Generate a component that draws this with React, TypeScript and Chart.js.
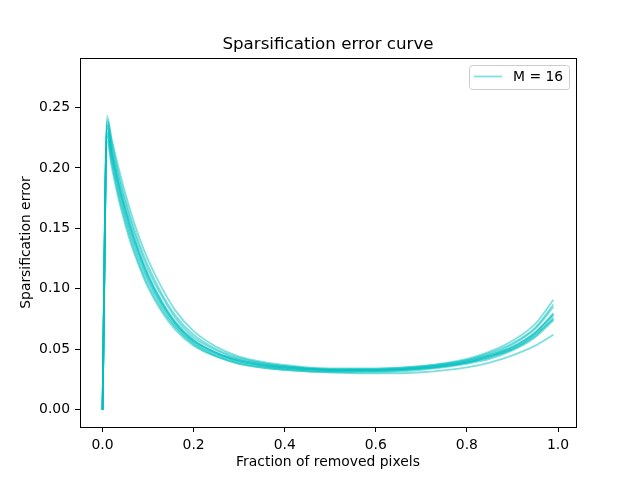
import React, { useEffect, useRef } from 'react';
import { Chart, registerables } from 'chart.js';

Chart.register(...registerables);

// fraction of removed pixels (x positions of the sampled points)
const FRACTIONS = [0, 0.01, 0.02, 0.03, 0.04, 0.06, 0.08, 0.1, 0.13, 0.16, 0.2, 0.25, 0.3, 0.4, 0.5, 0.6, 0.7, 0.8, 0.85, 0.9, 0.95, 0.99];

// sparsification error, one array per run
const run1 = [0, 0.243, 0.222, 0.204, 0.188, 0.161, 0.138, 0.119, 0.096, 0.078, 0.062, 0.050, 0.043, 0.036, 0.034, 0.034, 0.036, 0.042, 0.048, 0.057, 0.071, 0.091];
const run2 = [0, 0.238, 0.219, 0.201, 0.185, 0.158, 0.135, 0.116, 0.094, 0.076, 0.060, 0.049, 0.042, 0.036, 0.033, 0.033, 0.035, 0.041, 0.047, 0.055, 0.068, 0.087];
const run3 = [0, 0.235, 0.214, 0.196, 0.180, 0.153, 0.130, 0.111, 0.089, 0.072, 0.057, 0.047, 0.041, 0.035, 0.033, 0.033, 0.035, 0.040, 0.045, 0.052, 0.064, 0.080];
const run4 = [0, 0.230, 0.210, 0.192, 0.176, 0.149, 0.127, 0.108, 0.087, 0.071, 0.056, 0.046, 0.040, 0.034, 0.032, 0.032, 0.034, 0.039, 0.044, 0.051, 0.063, 0.078];
const run5 = [0, 0.228, 0.207, 0.189, 0.173, 0.146, 0.124, 0.106, 0.085, 0.069, 0.055, 0.045, 0.039, 0.034, 0.032, 0.032, 0.034, 0.039, 0.043, 0.050, 0.061, 0.076];
const run6 = [0, 0.222, 0.201, 0.183, 0.167, 0.140, 0.119, 0.101, 0.081, 0.066, 0.053, 0.044, 0.038, 0.033, 0.031, 0.031, 0.033, 0.038, 0.042, 0.049, 0.060, 0.074];
const run7 = [0, 0.226, 0.205, 0.186, 0.170, 0.143, 0.121, 0.103, 0.083, 0.068, 0.054, 0.044, 0.038, 0.033, 0.031, 0.030, 0.031, 0.035, 0.039, 0.045, 0.053, 0.062];
const run8 = [0, 0.240, 0.224, 0.208, 0.193, 0.166, 0.143, 0.124, 0.101, 0.082, 0.065, 0.052, 0.044, 0.037, 0.034, 0.034, 0.036, 0.041, 0.046, 0.054, 0.067, 0.085];
const run9 = [0, 0.233, 0.212, 0.194, 0.178, 0.151, 0.129, 0.110, 0.088, 0.071, 0.057, 0.047, 0.040, 0.035, 0.033, 0.033, 0.035, 0.040, 0.045, 0.052, 0.064, 0.079];
const run10 = [0, 0.236, 0.215, 0.197, 0.181, 0.154, 0.131, 0.112, 0.090, 0.073, 0.058, 0.047, 0.041, 0.035, 0.033, 0.033, 0.034, 0.039, 0.044, 0.050, 0.062, 0.075];
const RUNS = [run1, run2, run3, run4, run5, run6, run7, run8, run9, run10];

const X_TICKS = [0, 0.2, 0.4, 0.6, 0.8, 1.0];
const Y_TICKS = [0, 0.05, 0.1, 0.15, 0.2, 0.25];

const LINE = 'rgba(0,191,191,0.5)';
const FONT = 'DejaVu Sans';

// title, axis labels, full frame and the legend, drawn like matplotlib does
const mplDecor = {
  id: 'mplDecor',
  afterDraw(chart: Chart) {
    const { ctx, chartArea: a } = chart;
    ctx.save();
    ctx.strokeStyle = '#000';
    ctx.lineWidth = 1;
    ctx.strokeRect(a.left + 0.5, a.top + 0.5, a.right - a.left, a.bottom - a.top);

    const cx = (a.left + a.right) / 2;
    ctx.fillStyle = '#000';
    ctx.textAlign = 'center';
    ctx.textBaseline = 'alphabetic';
    ctx.font = `16.7px "${FONT}"`;
    ctx.fillText('Sparsification error curve', cx, 49);

    ctx.font = `13.9px "${FONT}"`;
    ctx.textBaseline = 'middle';
    ctx.fillText('Fraction of removed pixels', cx, 462);
    ctx.save();
    ctx.translate(26, (a.top + a.bottom) / 2);
    ctx.rotate(-Math.PI / 2);
    ctx.fillText('Sparsification error', 0, 0);
    ctx.restore();

    // legend box
    const bx = 469.5, by = 65.5, bw = 100, bh = 24, r = 3;
    ctx.beginPath();
    ctx.moveTo(bx + r, by);
    ctx.arcTo(bx + bw, by, bx + bw, by + bh, r);
    ctx.arcTo(bx + bw, by + bh, bx, by + bh, r);
    ctx.arcTo(bx, by + bh, bx, by, r);
    ctx.arcTo(bx, by, bx + bw, by, r);
    ctx.closePath();
    ctx.fillStyle = 'rgba(255,255,255,0.8)';
    ctx.fill();
    ctx.strokeStyle = '#cccccc';
    ctx.stroke();

    ctx.beginPath();
    ctx.moveTo(474, 76.5);
    ctx.lineTo(502, 76.5);
    ctx.strokeStyle = LINE;
    ctx.lineWidth = 1.8;
    ctx.stroke();

    ctx.fillStyle = '#000';
    ctx.textAlign = 'left';
    ctx.textBaseline = 'middle';
    ctx.fillText('M = 16', 513, 77);
    ctx.restore();
  },
};

export default function App() {
  const canvasRef = useRef<HTMLCanvasElement>(null);

  useEffect(() => {
    document.body.style.margin = '0';
    const ctx = canvasRef.current?.getContext('2d');
    let chart: Chart | undefined;
    if (ctx) {
      chart = new Chart(ctx, {
        type: 'line',
        data: {
          datasets: RUNS.map((run, i) => ({
            label: i === 0 ? 'M = 16' : '',
            data: run.map((y, j) => ({ x: FRACTIONS[j], y })),
            borderColor: LINE,
            borderWidth: 1.8,
            pointRadius: 0,
            fill: false,
            cubicInterpolationMode: 'monotone' as const,
          })),
        },
        options: {
          animation: false,
          responsive: false,
          layout: { padding: { left: 0, right: 64, top: 58, bottom: 0 } },
          plugins: { legend: { display: false }, title: { display: false }, tooltip: { enabled: false } },
          scales: {
            x: {
              type: 'linear',
              min: -0.0495,
              max: 1.0395,
              afterBuildTicks: (s: any) => { s.ticks = X_TICKS.map((v) => ({ value: v })); },
              afterFit: (s: any) => { s.height = 53; },
              grid: { drawOnChartArea: false, drawTicks: true, tickLength: 5, color: '#000', lineWidth: 1 },
              border: { display: true, color: '#000', width: 1 },
              ticks: {
                padding: 5,
                color: '#000',
                maxRotation: 0,
                font: { family: FONT, size: 13.9 },
                callback: (v: any) => Number(v).toFixed(1),
              },
            },
            y: {
              type: 'linear',
              min: -0.0143,
              max: 0.291,
              afterBuildTicks: (s: any) => { s.ticks = Y_TICKS.map((v) => ({ value: v })); },
              afterFit: (s: any) => { s.width = 80; },
              grid: { drawOnChartArea: false, drawTicks: true, tickLength: 5, color: '#000', lineWidth: 1 },
              border: { display: true, color: '#000', width: 1 },
              ticks: {
                padding: 5,
                color: '#000',
                font: { family: FONT, size: 13.9 },
                callback: (v: any) => Number(v).toFixed(2),
              },
            },
          },
        },
        plugins: [mplDecor],
      });
    }
    return () => {
      chart?.destroy();
    };
  }, []);

  return (
    <div style={{ position: 'absolute', left: 0, top: 0, width: 640, height: 480, background: '#fff' }}>
      <canvas ref={canvasRef} width={640} height={480}></canvas>
    </div>
  );
}
